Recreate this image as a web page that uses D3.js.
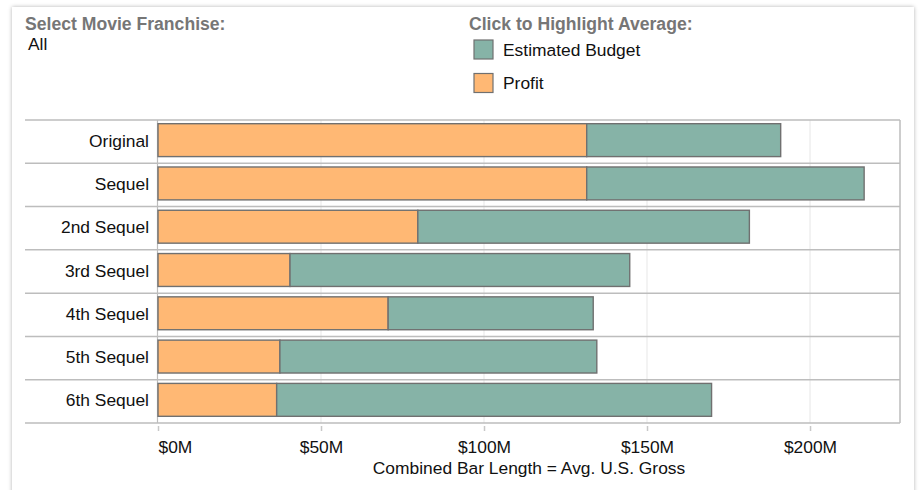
<!DOCTYPE html>
<html>
<head>
<meta charset="utf-8">
<script src="https://cdn.jsdelivr.net/npm/d3@7"></script>
<style>
  body { margin: 0; background: #fff; font-family: "Liberation Sans", Arial, sans-serif; }
  #card { position: absolute; left: 12px; top: 7px; width: 902px; height: 500px; background: #fff;
          box-shadow: 0 0 4px rgba(0,0,0,0.3); }
  #chart { position: absolute; left: 0; top: 0; }
</style>
</head>
<body>
<div id="card"></div>
<div id="chart"></div>
<script>
// values in $M
var sequels = ["Original", "Sequel", "2nd Sequel", "3rd Sequel", "4th Sequel", "5th Sequel", "6th Sequel"];
var profit = [131.5, 131.5, 79.7, 40.5, 70.6, 37.4, 36.4];
var budget = [59.5, 85.1, 101.7, 104.2, 62.9, 97.2, 133.4];
var tickValues = [0, 50, 100, 150, 200];
var legendItems = ["Estimated Budget", "Profit"];

var svgWidth = 919;
var svgHeight = 490;

var plot = { left: 158, right: 900, top: 120, bottom: 423, labelLeft: 25 };

var colors = { budget: "#86b3a7", profit: "#ffb874" };
var fontSize = "17.4px";

var svg = d3.select("#chart")
  .append("svg")
  .attr("width", svgWidth)
  .attr("height", svgHeight);

var rows = sequels.map(function(s, i) {
  return { name: s, profit: profit[i], budget: budget[i] };
});

var xScale = d3.scaleLinear()
  .domain([0, 227.6])
  .range([plot.left, plot.right]);

var yScale = d3.scaleBand()
  .domain(sequels)
  .range([plot.top, plot.bottom])
  .paddingInner(0.24)
  .paddingOuter(0.12);

var step = yScale.step();

// header
svg.append("text")
  .attr("x", 25).attr("y", 30)
  .attr("font-size", "17.6px").attr("font-weight", "bold").attr("fill", "#767676")
  .text("Select Movie Franchise:");

svg.append("text")
  .attr("x", 28).attr("y", 50)
  .attr("font-size", fontSize).attr("fill", "#111")
  .text("All");

svg.append("text")
  .attr("x", 469).attr("y", 30)
  .attr("font-size", "17.6px").attr("font-weight", "bold").attr("fill", "#767676")
  .text("Click to Highlight Average:");

var legend = svg.selectAll(".legend")
  .data(legendItems)
  .enter()
  .append("g")
  .attr("class", "legend")
  .attr("transform", (d, i) => `translate(474, ${40 + i * 33.5})`);

legend.append("rect")
  .attr("width", 19).attr("height", 19)
  .attr("fill", d => d == "Profit" ? colors.profit : colors.budget)
  .attr("stroke", "#707070").attr("stroke-width", 1.2);

legend.append("text")
  .attr("x", 29).attr("y", 15.5)
  .attr("font-size", fontSize).attr("fill", "#111")
  .text(d => d);

// gridlines
svg.append("g")
  .selectAll("line")
  .data(tickValues.slice(1))
  .enter()
  .append("line")
  .attr("x1", d => xScale(d)).attr("x2", d => xScale(d))
  .attr("y1", plot.top).attr("y2", plot.bottom)
  .attr("stroke", "#ebebeb").attr("stroke-width", 1.2);

// row separators
var seps = d3.range(sequels.length + 1).map(i => plot.top + i * step);
svg.append("g")
  .selectAll("line")
  .data(seps)
  .enter()
  .append("line")
  .attr("x1", plot.labelLeft).attr("x2", plot.right)
  .attr("y1", d => d).attr("y2", d => d)
  .attr("stroke", "#bdbdbd").attr("stroke-width", 1.5);

// vertical frame lines
svg.append("line")
  .attr("x1", plot.left - 0.5).attr("x2", plot.left - 0.5)
  .attr("y1", plot.top).attr("y2", plot.bottom)
  .attr("stroke", "#bdbdbd").attr("stroke-width", 1.2);
svg.append("line")
  .attr("x1", plot.right).attr("x2", plot.right)
  .attr("y1", plot.top).attr("y2", plot.bottom)
  .attr("stroke", "#bdbdbd").attr("stroke-width", 1.5);

// stacked bars
var stack = d3.stack().keys(["profit", "budget"]);
var series = stack(rows);

var barGroup = svg.append("g").attr("transform", "translate(0,-1.5)");
barGroup.selectAll("g")
  .data(series)
  .enter()
  .append("g")
  .attr("fill", d => colors[d.key])
  .selectAll("rect")
  .data(d => d)
  .enter()
  .append("rect")
  .attr("x", d => xScale(d[0]))
  .attr("width", d => xScale(d[1]) - xScale(d[0]))
  .attr("y", d => yScale(d.data.name))
  .attr("height", yScale.bandwidth())
  .attr("stroke", "#707070")
  .attr("stroke-width", 1.4);

// row labels
svg.append("g")
  .selectAll("text")
  .data(sequels)
  .enter()
  .append("text")
  .attr("x", plot.left - 9)
  .attr("y", d => yScale(d) + yScale.bandwidth() / 2 - 1)
  .attr("dy", "0.35em")
  .attr("text-anchor", "end")
  .attr("font-size", fontSize).attr("fill", "#111")
  .text(d => d);

// x axis
var bottomAxis = d3.axisBottom(xScale)
  .tickValues(tickValues)
  .tickSize(5)
  .tickPadding(10)
  .tickFormat(d => "$" + d + "M");

var axisG = svg.append("g")
  .attr("transform", `translate(0, ${plot.bottom + 3})`)
  .call(bottomAxis);

axisG.select(".domain").remove();
axisG.selectAll(".tick line").attr("stroke", "#c8c8c8").attr("stroke-width", 1.5);
axisG.selectAll(".tick text")
  .attr("font-family", "Liberation Sans, Arial, sans-serif")
  .attr("font-size", fontSize).attr("fill", "#111")
  // first label sits inside the plot, starting at the tick
  .attr("text-anchor", d => d == 0 ? "start" : "middle");

svg.append("text")
  .attr("x", (plot.left + plot.right) / 2)
  .attr("y", 474)
  .attr("text-anchor", "middle")
  .attr("font-size", fontSize).attr("fill", "#111")
  .text("Combined Bar Length = Avg. U.S. Gross");
</script>
</body>
</html>
